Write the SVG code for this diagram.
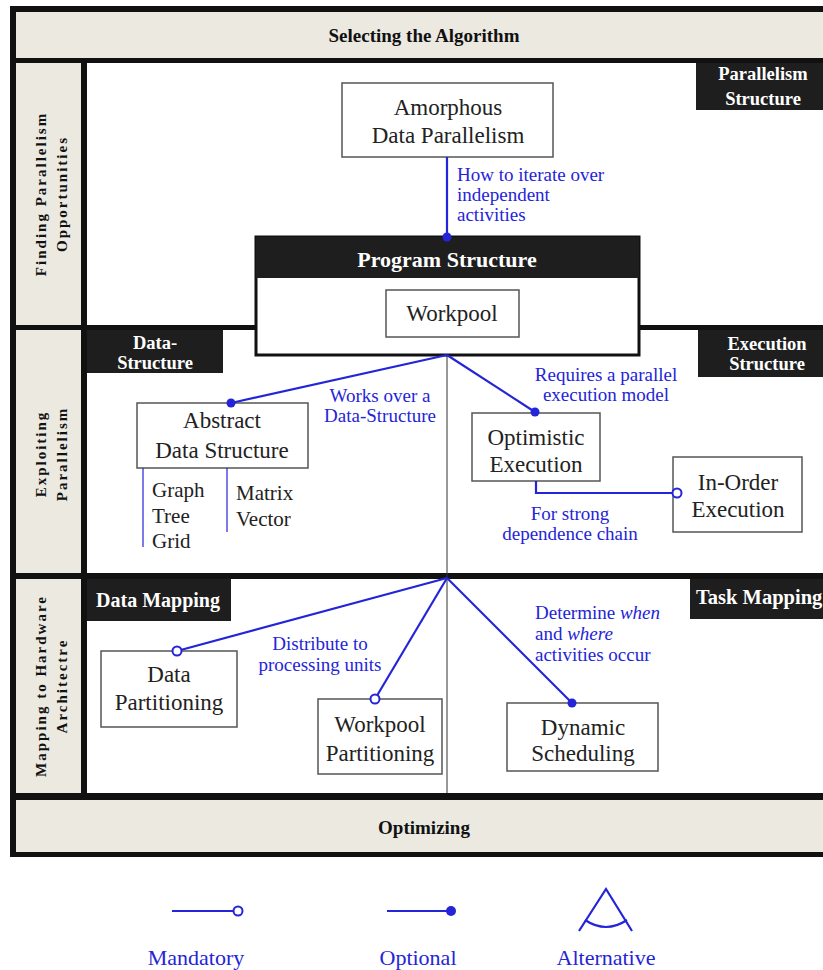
<svg xmlns="http://www.w3.org/2000/svg" width="823" height="970" viewBox="0 0 823 970">
<style>
.band{fill:#ece9e1}
.cell{fill:#ffffff}
.hdr{font-family:"Liberation Serif",serif;font-weight:bold;font-size:19px;fill:#111;text-anchor:middle}
.side{font-family:"Liberation Serif",serif;font-weight:bold;font-size:15px;letter-spacing:2px;fill:#111;text-anchor:middle}
.tag{fill:#1e1e1e}
.tagt{font-family:"Liberation Serif",serif;font-weight:bold;font-size:18.5px;fill:#fff;text-anchor:middle}
.box{fill:#fff;stroke:#555;stroke-width:1.5}
.bt{font-family:"Liberation Serif",serif;font-size:23px;fill:#222;text-anchor:middle}
.lt{font-family:"Liberation Serif",serif;font-size:21px;fill:#222}
.blue{font-family:"Liberation Serif",serif;font-size:19px;fill:#2424d8}
.con{stroke:#2424d8;stroke-width:2.2;fill:none}
.thin{stroke:#2424d8;stroke-width:1.2;fill:none}
.dot{fill:#2424d8}
.odot{fill:#fff;stroke:#2424d8;stroke-width:2}
</style>
<g id="frame">
<rect x="10" y="6" width="830" height="851" fill="#111"/>
<rect class="band" x="16" y="12" width="820" height="46"/>
<rect class="band" x="16" y="63" width="65" height="262"/>
<rect class="band" x="16" y="330" width="65" height="243"/>
<rect class="band" x="16" y="579" width="65" height="214"/>
<rect class="cell" x="87" y="63" width="750" height="262"/>
<rect class="cell" x="87" y="330" width="750" height="243"/>
<rect class="cell" x="87" y="579" width="750" height="214"/>
<rect class="band" x="16" y="800" width="820" height="52"/>
<text class="hdr" x="424" y="42">Selecting the Algorithm</text>
<text class="hdr" x="424" y="834">Optimizing</text>
<text class="side" transform="translate(46,194) rotate(-90)">Finding Parallelism</text>
<text class="side" transform="translate(67,194) rotate(-90)">Opportunities</text>
<text class="side" transform="translate(46,454) rotate(-90)">Exploiting</text>
<text class="side" transform="translate(67,454) rotate(-90)">Parallelism</text>
<text class="side" transform="translate(46,686) rotate(-90)">Mapping to Hardware</text>
<text class="side" transform="translate(67,686) rotate(-90)">Architectre</text>
</g>
<g id="tags">
<rect class="tag" x="696" y="63" width="130" height="47"/>
<text class="tagt" x="763" y="80">Parallelism</text>
<text class="tagt" x="763" y="105">Structure</text>
<rect class="tag" x="87" y="330" width="136" height="43"/>
<text class="tagt" x="155" y="349">Data-</text>
<text class="tagt" x="155" y="369">Structure</text>
<rect class="tag" x="698" y="330" width="128" height="47"/>
<text class="tagt" x="767" y="350">Execution</text>
<text class="tagt" x="767" y="370">Structure</text>
<rect class="tag" x="87" y="579" width="144" height="42"/>
<text class="tagt" x="158" y="607" style="font-size:20px">Data Mapping</text>
<rect class="tag" x="690" y="579" width="136" height="40"/>
<text class="tagt" x="696" y="604" style="text-anchor:start;font-size:20.5px">Task Mapping</text>
</g>
<line x1="447" y1="355" x2="447" y2="793" stroke="#333" stroke-width="1"/>
<g id="amorphous">
<rect class="box" x="342" y="83" width="211" height="74"/>
<text class="bt" x="448" y="115">Amorphous</text>
<text class="bt" x="448" y="143">Data Parallelism</text>
</g>
<g id="program-structure">
<rect x="256" y="237" width="383" height="118" fill="#fff" stroke="#111" stroke-width="3"/>
<rect x="256" y="237" width="383" height="41" fill="#1e1e1e"/>
<text class="tagt" x="447" y="267" style="font-size:22px">Program Structure</text>
</g>
<g id="workpool">
<rect class="box" x="386" y="290" width="133" height="47"/>
<text class="bt" x="452" y="321">Workpool</text>
</g>
<g id="abstract-data-structure">
<rect class="box" x="137" y="403" width="171" height="65"/>
<text class="bt" x="222" y="428">Abstract</text>
<text class="bt" x="222" y="458">Data Structure</text>
<line class="thin" x1="143" y1="468" x2="143" y2="547"/>
<line class="thin" x1="227" y1="468" x2="227" y2="532"/>
<text class="lt" x="152" y="497">Graph</text>
<text class="lt" x="152" y="523">Tree</text>
<text class="lt" x="152" y="548">Grid</text>
<text class="lt" x="236" y="500">Matrix</text>
<text class="lt" x="236" y="526">Vector</text>
</g>
<g id="optimistic-execution">
<rect class="box" x="472" y="413" width="128" height="68"/>
<text class="bt" x="536" y="445">Optimistic</text>
<text class="bt" x="536" y="472">Execution</text>
</g>
<g id="in-order-execution">
<rect class="box" x="673" y="457" width="129" height="75"/>
<text class="bt" x="738" y="490">In-Order</text>
<text class="bt" x="738" y="517">Execution</text>
</g>
<g id="data-partitioning">
<rect class="box" x="101" y="651" width="136" height="76"/>
<text class="bt" x="169" y="682">Data</text>
<text class="bt" x="169" y="710">Partitioning</text>
</g>
<g id="workpool-partitioning">
<rect class="box" x="318" y="699" width="124" height="75"/>
<text class="bt" x="380" y="732">Workpool</text>
<text class="bt" x="380" y="761">Partitioning</text>
</g>
<g id="dynamic-scheduling">
<rect class="box" x="507" y="703" width="151" height="68"/>
<text class="bt" x="583" y="735">Dynamic</text>
<text class="bt" x="583" y="761">Scheduling</text>
</g>
<g id="connectors">
<line class="con" x1="447" y1="157" x2="447" y2="237"/>
<circle class="dot" cx="447" cy="237" r="4.5"/>
<line class="con" x1="447" y1="355" x2="231" y2="403"/>
<circle class="dot" cx="231" cy="403" r="4.5"/>
<line class="con" x1="447" y1="355" x2="535" y2="412"/>
<circle class="dot" cx="535" cy="412" r="4.5"/>
<polyline class="con" points="536,481 536,493 673,493"/>
<circle class="odot" cx="677" cy="493" r="4.5"/>
<line class="con" x1="447" y1="578" x2="177" y2="651"/>
<circle class="odot" cx="177" cy="651" r="4.5"/>
<line class="con" x1="447" y1="578" x2="375" y2="699"/>
<circle class="odot" cx="375" cy="699" r="4.5"/>
<line class="con" x1="447" y1="578" x2="572" y2="703"/>
<circle class="dot" cx="572" cy="703" r="4.5"/>
<text class="blue" x="457" y="181">How to iterate over</text>
<text class="blue" x="457" y="201">independent</text>
<text class="blue" x="457" y="221">activities</text>
<text class="blue" x="380" y="402" text-anchor="middle">Works over a</text>
<text class="blue" x="380" y="422" text-anchor="middle">Data-Structure</text>
<text class="blue" x="606" y="381" text-anchor="middle">Requires a parallel</text>
<text class="blue" x="606" y="401" text-anchor="middle">execution model</text>
<text class="blue" x="570" y="520" text-anchor="middle">For strong</text>
<text class="blue" x="570" y="540" text-anchor="middle">dependence chain</text>
<text class="blue" x="320" y="650" text-anchor="middle">Distribute to</text>
<text class="blue" x="320" y="671" text-anchor="middle">processing units</text>
<text class="blue" x="535" y="619">Determine <tspan font-style="italic">when</tspan></text>
<text class="blue" x="535" y="640">and <tspan font-style="italic">where</tspan></text>
<text class="blue" x="535" y="661">activities occur</text>
</g>
<g id="legend">
<line class="con" x1="172" y1="911" x2="234" y2="911"/>
<circle class="odot" cx="238" cy="911" r="4.5"/>
<line class="con" x1="387" y1="911" x2="450" y2="911"/>
<circle class="dot" cx="451" cy="911" r="5"/>
<polyline class="con" points="579,931 606,889 632,931"/>
<path class="con" d="M585,920 Q606,934 627,920"/>
<text class="blue" x="196" y="965" text-anchor="middle" style="font-size:22px">Mandatory</text>
<text class="blue" x="418" y="965" text-anchor="middle" style="font-size:22px">Optional</text>
<text class="blue" x="606" y="965" text-anchor="middle" style="font-size:22px">Alternative</text>
</g>
</svg>
